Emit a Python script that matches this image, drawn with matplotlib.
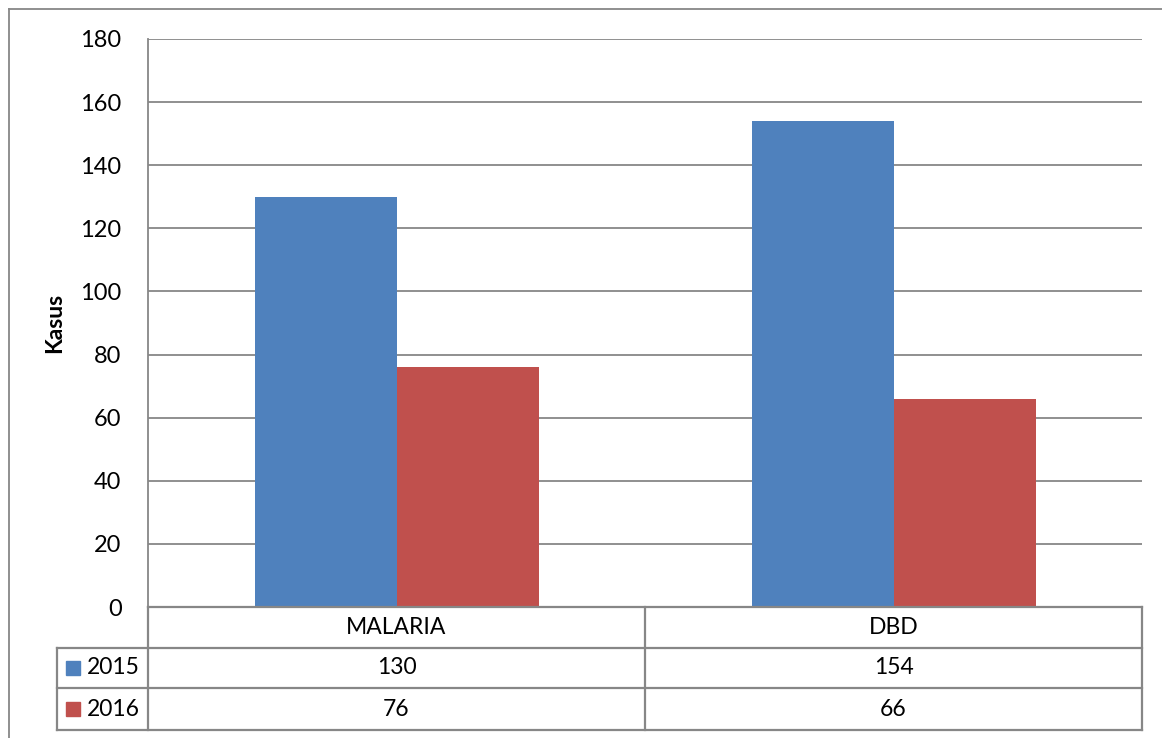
import matplotlib
matplotlib.use("Agg")
import matplotlib.pyplot as plt
from matplotlib.patches import Rectangle
from matplotlib.lines import Line2D
import numpy as np

categories = ["MALARIA", "DBD"]
series_names = ["2015", "2016"]
values_2015 = [130, 154]
values_2016 = [76, 66]
y_ticks = [0, 20, 40, 60, 80, 100, 120, 140, 160, 180]
y_label = "Kasus"

colors = ["#4F81BD", "#C0504D"]
grid_color = "#878787"
FONT = ["Lato", "DejaVu Sans"]
plt.rcParams["font.family"] = FONT

W, H = 1162, 738
fig = plt.figure(figsize=(W / 100, H / 100), dpi=100)

# layout in pixels
px_left, px_right = 148, 1142
px_top, px_bottom = 39, 607
row_edges = [607, 648, 688, 730]
legend_left = 57

def fx(x):
    return x / W

def fy(y):
    return 1 - y / H

ax = fig.add_axes([fx(px_left), fy(px_bottom), fx(px_right - px_left), (px_bottom - px_top) / H])

series = [values_2015, values_2016]
n = len(series)
x = np.arange(len(categories))
width = 1 / 3.5
for i, vals in enumerate(series):
    offs = (i - (n - 1) / 2) * width
    ax.bar(x + offs, vals, width=width, color=colors[i], zorder=3, linewidth=0)

ax.set_xlim(-0.5, len(categories) - 0.5)
ax.set_ylim(0, 180)
ax.set_yticks(y_ticks)
ax.set_yticklabels([str(t) for t in y_ticks], fontsize=17)
ax.tick_params(axis="y", length=0, pad=19)
ax.set_xticks([])
ax.yaxis.grid(True, color=grid_color, linewidth=1.3, zorder=0)
for s in ["top", "right", "bottom"]:
    ax.spines[s].set_visible(False)
ax.spines["left"].set_color(grid_color)
ax.spines["left"].set_linewidth(1.3)
ax.set_ylabel(y_label, fontsize=16.5, fontweight="bold", labelpad=11)

# data table
lw = 1.6
def hline(y, x0, x1):
    fig.add_artist(Line2D([fx(x0), fx(x1)], [fy(y), fy(y)], color=grid_color, lw=lw, transform=fig.transFigure))

def vline(x_, y0, y1):
    fig.add_artist(Line2D([fx(x_), fx(x_)], [fy(y0), fy(y1)], color=grid_color, lw=lw, transform=fig.transFigure))

hline(row_edges[0], px_left, px_right)
for y in row_edges[1:]:
    hline(y, legend_left, px_right)
vline(px_right, row_edges[0], row_edges[-1])
vline(px_left, row_edges[0], row_edges[-1])
vline(legend_left, row_edges[1], row_edges[-1])
cat_w = (px_right - px_left) / len(categories)
for j in range(1, len(categories)):
    vline(px_left + j * cat_w, row_edges[0], row_edges[-1])

fs = 16.5
for j, c in enumerate(categories):
    cx = px_left + (j + 0.5) * cat_w
    fig.text(fx(cx), fy((row_edges[0] + row_edges[1]) / 2), c, ha="center", va="center", fontsize=fs)
    for i, vals in enumerate(series):
        fig.text(fx(cx), fy((row_edges[i + 1] + row_edges[i + 2]) / 2), str(vals[j]),
                 ha="center", va="center", fontsize=fs)

for i, name in enumerate(series_names):
    yc = (row_edges[i + 1] + row_edges[i + 2]) / 2
    fig.add_artist(Rectangle((fx(66), fy(yc + 7)), fx(14), 14 / H, color=colors[i], transform=fig.transFigure))
    fig.text(fx(87), fy(yc), name, ha="left", va="center", fontsize=fs)

# outer chart border
fig.add_artist(Line2D([fx(9), fx(9)], [fy(9), 0], color=grid_color, lw=1.3, transform=fig.transFigure))
fig.add_artist(Line2D([fx(9), 1], [fy(9), fy(9)], color=grid_color, lw=1.3, transform=fig.transFigure))

fig.savefig("out.png", dpi=100, facecolor="white")
